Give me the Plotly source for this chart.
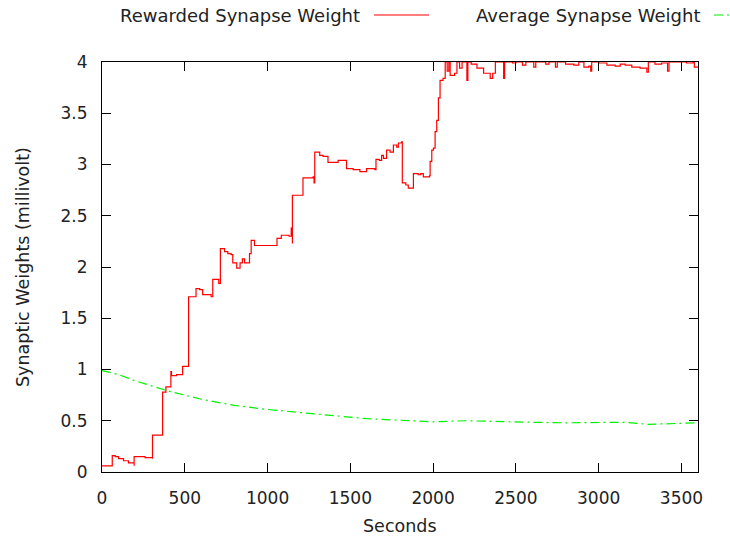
import plotly.graph_objects as go

# Rewarded synapse weight over time (seconds, millivolt)
t_rewarded = [0, 62, 62, 80, 100, 130, 160, 194, 194, 230, 260, 305, 305, 366, 366, 386, 416, 420, 450,
              487, 517, 523, 568, 590, 608, 659, 669, 700, 705, 715, 740, 760, 780, 790, 814, 834, 848,
              861, 880, 891, 901, 921, 1048, 1057, 1083, 1110, 1130, 1143, 1150, 1150, 1210, 1214, 1255,
              1275, 1281, 1285, 1315, 1335, 1365, 1426, 1477, 1517, 1558, 1598, 1620, 1648, 1655, 1675,
              1689, 1700, 1719, 1740, 1760, 1780, 1790, 1810, 1814, 1835, 1850, 1877, 1881, 1910, 1925,
              1941, 1978, 1982, 1992, 2002, 2012, 2022, 2032, 2042, 2060, 2073, 2085, 2095, 2103, 2130,
              2144, 2160, 2175, 2195, 2204, 2210, 2230, 2265, 2305, 2345, 2360, 2376, 2420, 2426, 2432,
              2480, 2500, 2540, 2560, 2608, 2620, 2680, 2700, 2739, 2750, 2800, 2850, 2880, 2911, 2940,
              2952, 2958, 3000, 3050, 3100, 3130, 3160, 3200, 3250, 3291, 3300, 3340, 3380, 3416, 3425,
              3480, 3530, 3570, 3578, 3600]
w_rewarded = [0.06, 0.06, 0.16, 0.15, 0.13, 0.11, 0.09, 0.06, 0.15, 0.15, 0.14, 0.13, 0.36, 0.36, 0.78,
              0.83, 0.98, 0.94, 0.95, 1.03, 1.03, 1.71, 1.79, 1.78, 1.73, 1.71, 1.88, 1.88, 1.84, 2.18,
              2.15, 2.13, 2.12, 2.04, 1.99, 2.04, 2.08, 2.04, 2.04, 2.13, 2.26, 2.21, 2.21, 2.28, 2.31,
              2.31, 2.30, 2.38, 2.23, 2.70, 2.70, 2.87, 2.87, 2.88, 2.82, 3.12, 3.09, 3.08, 3.02, 3.04,
              2.96, 2.95, 2.93, 2.96, 2.96, 2.95, 3.05, 3.04, 3.09, 3.06, 3.14, 3.12, 3.19, 3.17, 3.21,
              3.22, 2.82, 2.80, 2.77, 2.77, 2.91, 2.90, 2.91, 2.88, 2.89, 3.03, 3.14, 3.16, 3.32, 3.43,
              3.65, 3.82, 3.84, 4.00, 3.91, 4.00, 3.87, 3.89, 4.00, 3.94, 4.00, 4.00, 3.82, 4.00, 3.98,
              3.94, 3.89, 3.84, 3.89, 4.00, 4.00, 3.84, 4.00, 3.99, 4.00, 3.97, 4.00, 3.95, 4.00, 3.98,
              4.00, 3.95, 4.00, 3.98, 3.97, 4.00, 3.95, 3.96, 3.91, 4.00, 3.99, 3.97, 3.96, 3.98, 3.97,
              3.95, 3.94, 3.90, 4.00, 3.98, 3.99, 3.91, 4.00, 4.00, 3.99, 4.00, 3.95, 3.95]

# Average synapse weight over time
t_average = [0, 100, 200, 300, 400, 500, 600, 700, 800, 900, 1000, 1200, 1400, 1600, 1800, 2000, 2200,
             2400, 2600, 2800, 3000, 3150, 3300, 3450, 3600]
w_average = [0.99, 0.95, 0.89, 0.84, 0.79, 0.75, 0.71, 0.68, 0.65, 0.63, 0.61, 0.58, 0.55, 0.52, 0.505,
             0.49, 0.50, 0.49, 0.485, 0.48, 0.48, 0.485, 0.465, 0.47, 0.48]

x_ticks = [0, 500, 1000, 1500, 2000, 2500, 3000, 3500]
y_ticks = [0, 0.5, 1, 1.5, 2, 2.5, 3, 3.5, 4]
y_tick_text = ["0", "0.5", "1", "1.5", "2", "2.5", "3", "3.5", "4"]

series_names = ["Rewarded Synapse Weight", "Average Synapse Weight"]
axis_titles = ["Seconds", "Synaptic Weights (millivolt)"]

RED = "#ff0000"
GREEN = "#00f000"
FONT = "DejaVu Sans"
DASHDOT = "9px,4px,2px,4px"

fig = go.Figure()
fig.add_trace(go.Scatter(x=t_rewarded, y=w_rewarded, mode="lines", name=series_names[0],
                         line=dict(color=RED, width=1.2, shape="hv"), showlegend=False))
fig.add_trace(go.Scatter(x=t_average, y=w_average, mode="lines", name=series_names[1],
                         line=dict(color=GREEN, width=1.2, dash=DASHDOT),
                         showlegend=False))

axis_common = dict(showline=True, linecolor="black", linewidth=1, mirror="ticks",
                   ticks="inside", ticklen=9, tickcolor="black", tickwidth=1,
                   showgrid=False, zeroline=False,
                   tickfont=dict(family=FONT, size=17, color="#222222"))

fig.update_xaxes(range=[0, 3600], tickvals=x_ticks, ticklabelstandoff=11, **axis_common)
fig.update_yaxes(range=[0, 4], tickvals=y_ticks, ticktext=y_tick_text, ticklabelstandoff=10,
                 **axis_common)

L, R, T, B = 102, 32, 62, 68
W, H = 730, 540
pw, ph = W - L - R, H - T - B


def px_x(px):
    return (px - L) / pw


def px_y(py):
    return (H - B - py) / ph


title_font = dict(family=FONT, size=17.5, color="#222222")
legend_font = dict(family=FONT, size=18, color="#222222")
annotations = [
    dict(text=axis_titles[0], xref="paper", yref="paper", x=0.5, y=px_y(526),
         xanchor="center", yanchor="middle", showarrow=False, font=title_font),
    dict(text=axis_titles[1], xref="paper", yref="paper", x=px_x(23), y=0.5,
         xanchor="center", yanchor="middle", textangle=-90, showarrow=False, font=title_font),
    dict(text=series_names[0], xref="paper", yref="paper", x=px_x(362), y=px_y(16),
         xanchor="right", yanchor="middle", showarrow=False, font=legend_font),
    dict(text=series_names[1], xref="paper", yref="paper", x=px_x(702), y=px_y(16),
         xanchor="right", yanchor="middle", showarrow=False, font=legend_font),
]
shapes = [
    dict(type="line", xref="paper", yref="paper", x0=px_x(374), x1=px_x(429),
         y0=px_y(15), y1=px_y(15), line=dict(color=RED, width=1.2)),
    dict(type="line", xref="paper", yref="paper", x0=px_x(714), x1=px_x(770),
         y0=px_y(15), y1=px_y(15), line=dict(color=GREEN, width=1.2, dash=DASHDOT)),
]

fig.update_layout(width=W, height=H, margin=dict(l=L, r=R, t=T, b=B),
                  paper_bgcolor="white", plot_bgcolor="white",
                  annotations=annotations, shapes=shapes,
                  font=dict(family=FONT, color="#222222"))

fig.write_html("out.html")
